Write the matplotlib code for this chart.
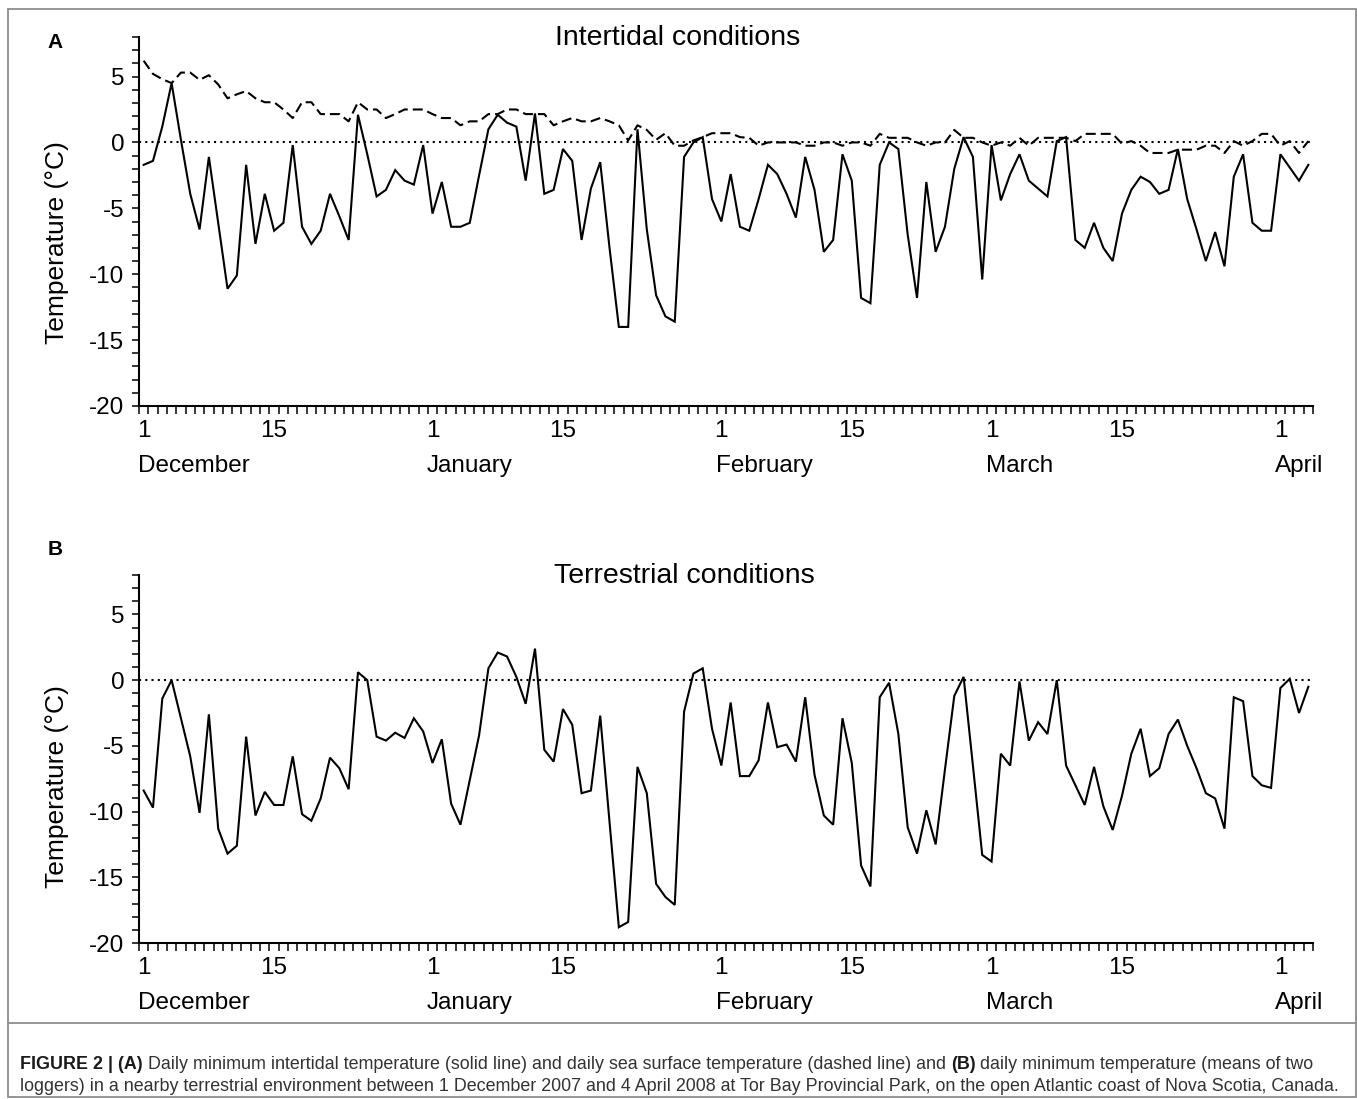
import numpy as np
import matplotlib
matplotlib.use("Agg")
import matplotlib.pyplot as plt
import matplotlib.dates as mdates
from matplotlib.ticker import MultipleLocator, FixedLocator
from matplotlib.patches import Rectangle
from matplotlib.lines import Line2D

# ---------------- data (daily values, 1 Dec 2007 - 4 Apr 2008) ----------------
start_date, end_date = "2007-12-01", "2008-04-05"

intertidal_min = [
    -1.7, -1.4, 1.2, 4.5, 0.2, -3.9, -6.6, -1.1, -6.1, -11.1,
    -10.1, -1.7, -7.7, -3.9, -6.7, -6.1, -0.2, -6.4, -7.7, -6.7,
    -3.9, -5.6, -7.4, 2.1, -0.9, -4.1, -3.6, -2.1, -2.9, -3.2,
    -0.2, -5.4, -3.0, -6.4, -6.4, -6.1, -2.5, 1.0, 2.1, 1.5,
    1.2, -2.9, 2.2, -3.9, -3.6, -0.5, -1.4, -7.4, -3.5, -1.5,
    -8.0, -14.0, -14.0, 1.0, -6.6, -11.6, -13.2, -13.6, -1.1, 0.0,
    0.4, -4.3, -6.0, -2.4, -6.4, -6.7, -4.3, -1.7, -2.4, -3.9,
    -5.7, -1.1, -3.6, -8.3, -7.4, -0.9, -2.9, -11.8, -12.2, -1.7,
    0.0, -0.5, -7.0, -11.8, -3.0, -8.3, -6.4, -2.0, 0.4, -1.1,
    -10.4, -0.2, -4.4, -2.4, -0.9, -2.9, -3.5, -4.1, 0.1, 0.4,
    -7.4, -8.0, -6.1, -8.0, -9.0, -5.4, -3.6, -2.6, -3.0, -3.9,
    -3.6, -0.5, -4.3, -6.6, -9.0, -6.8, -9.4, -2.6, -0.9, -6.1,
    -6.7, -6.7, -0.9, -1.9, -2.9, -1.7,
]

sea_surface = [
    6.2, 5.2, 4.8, 4.5, 5.3, 5.3, 4.75, 5.1, 4.4, 3.35,
    3.65, 3.9, 3.35, 3.05, 3.05, 2.5, 1.85, 3.05, 3.05, 2.15,
    2.15, 2.15, 1.6, 3.05, 2.5, 2.5, 1.85, 2.15, 2.5, 2.5,
    2.5, 2.15, 1.85, 1.85, 1.3, 1.6, 1.6, 2.15, 2.15, 2.5,
    2.5, 2.15, 2.15, 2.15, 1.3, 1.6, 1.85, 1.6, 1.6, 1.85,
    1.6, 1.3, 0.15, 1.3, 0.95, 0.2, 0.7, -0.25, -0.25, 0.15,
    0.4, 0.7, 0.7, 0.7, 0.4, 0.35, -0.25, 0.0, 0.0, 0.0,
    0.0, -0.25, -0.25, 0.0, 0.0, -0.25, 0.0, 0.0, -0.25, 0.65,
    0.35, 0.35, 0.35, 0.0, -0.25, 0.0, 0.0, 0.95, 0.35, 0.35,
    0.0, -0.25, 0.0, -0.25, 0.35, -0.25, 0.35, 0.35, 0.35, 0.35,
    0.1, 0.65, 0.65, 0.65, 0.65, -0.1, 0.1, -0.25, -0.8, -0.8,
    -0.8, -0.55, -0.55, -0.55, -0.25, -0.25, -0.8, 0.1, -0.25, 0.1,
    0.65, 0.65, -0.25, 0.1, -0.8, 0.1,
]

terrestrial_min = [
    -8.4, -9.7, -1.4, 0.0, -2.9, -5.8, -10.1, -2.6, -11.3, -13.2,
    -12.6, -4.3, -10.3, -8.5, -9.5, -9.5, -5.8, -10.2, -10.7, -9.0,
    -5.9, -6.7, -8.3, 0.6, 0.0, -4.3, -4.6, -4.0, -4.4, -2.9,
    -3.9, -6.3, -4.5, -9.4, -11.0, -7.6, -4.2, 0.9, 2.1, 1.8,
    0.25, -1.8, 2.4, -5.3, -6.2, -2.2, -3.4, -8.6, -8.4, -2.7,
    -10.8, -18.8, -18.4, -6.6, -8.6, -15.5, -16.5, -17.1, -2.4, 0.5,
    0.9, -3.7, -6.5, -1.7, -7.3, -7.3, -6.1, -1.7, -5.1, -4.9,
    -6.2, -1.3, -7.2, -10.3, -11.0, -2.9, -6.3, -14.1, -15.7, -1.3,
    -0.2, -4.1, -11.2, -13.2, -9.9, -12.5, -6.8, -1.2, 0.25, -6.5,
    -13.3, -13.8, -5.6, -6.5, -0.1, -4.6, -3.2, -4.1, 0.0, -6.5,
    -8.0, -9.5, -6.6, -9.6, -11.4, -8.8, -5.6, -3.7, -7.3, -6.7,
    -4.1, -3.0, -5.0, -6.7, -8.6, -9.0, -11.3, -1.3, -1.6, -7.3,
    -8.0, -8.2, -0.6, 0.1, -2.5, -0.5,
]

tick_dates = ["2007-12-01", "2007-12-15", "2008-01-01", "2008-01-15", "2008-02-01",
              "2008-02-15", "2008-03-01", "2008-03-15", "2008-04-01"]
tick_labels = ["1", "15", "1", "15", "1", "15", "1", "15", "1"]
month_starts = ["2007-12-01", "2008-01-01", "2008-02-01", "2008-03-01", "2008-04-01"]
month_names = ["December", "January", "February", "March", "April"]
y_major = [-20, -15, -10, -5, 0, 5]

panel_titles = ["Intertidal conditions", "Terrestrial conditions"]
panel_letters = ["A", "B"]
y_label = "Temperature (\u00b0C)"

caption_line1 = [
    ("FIGURE 2 | (A)", True),
    ("Daily minimum intertidal temperature (solid line) and daily sea surface temperature (dashed line) and", False),
    ("(B)", True),
    ("daily minimum temperature (means of two", False),
]
caption_line2 = [
    ("loggers) in a nearby terrestrial environment between 1 December 2007 and 4 April 2008 at Tor Bay "
     "Provincial Park, on the open Atlantic coast of Nova Scotia, Canada.", False),
]

# ---------------- styling ----------------
plt.rcParams["font.family"] = ["Liberation Sans", "DejaVu Sans"]
plt.rcParams["axes.unicode_minus"] = False
W, H = 1357, 1099
fig = plt.figure(figsize=(W / 100, H / 100), dpi=100)
fig.patch.set_facecolor("white")


def fx(x):
    return x / W


def fy(y):
    return 1 - y / H


days = np.arange(start_date, end_date, dtype="datetime64[D]")
x_mid = mdates.date2num(days) + 0.5
x_lo = mdates.date2num(np.datetime64(start_date))
x_hi = mdates.date2num(np.datetime64(end_date))
tick_x = mdates.date2num(np.array(tick_dates, dtype="datetime64[D]")) + 0.5
month_x = mdates.date2num(np.array(month_starts, dtype="datetime64[D]"))

LW = 1.5
TICK_FS = 17.5


def make_panel(top_px, bottom_px):
    ax = fig.add_axes([fx(139), fy(bottom_px), fx(1313) - fx(139), fy(top_px) - fy(bottom_px)])
    ax.set_xlim(x_lo, x_hi)
    ax.set_ylim(-20, 8)
    for s in ("top", "right"):
        ax.spines[s].set_visible(False)
    for s in ("left", "bottom"):
        ax.spines[s].set_linewidth(1.5)
    ax.axhline(0, color="black", lw=1.5, linestyle=(0, (1, 2)), zorder=1)
    # y ticks
    ax.yaxis.set_major_locator(FixedLocator(y_major))
    ax.yaxis.set_minor_locator(MultipleLocator(1))
    ax.tick_params(axis="y", which="both", direction="out", length=5, width=1.1,
                   labelsize=TICK_FS, pad=5.5)
    # x ticks: daily marks (minor), labels centred on days (major, no mark)
    ax.xaxis.set_minor_locator(FixedLocator(np.arange(x_lo, x_hi + 0.5, 1.0)))
    ax.xaxis.set_major_locator(FixedLocator(tick_x))
    ax.set_xticklabels(tick_labels)
    ax.tick_params(axis="x", which="minor", direction="out", length=5.5, width=1.1)
    ax.tick_params(axis="x", which="major", length=0, labelsize=TICK_FS, pad=10)
    for mx, name in zip(month_x, month_names):
        ax.annotate(name, xy=(mx, 0), xycoords=("data", "axes fraction"),
                    xytext=(-1, -60), textcoords="offset pixels",
                    ha="left", va="center", fontsize=TICK_FS)
    return ax


axA = make_panel(37, 406)
axA.plot(x_mid, intertidal_min, color="black", lw=LW, solid_joinstyle="miter")
axA.plot(x_mid, sea_surface, color="black", lw=LW, dashes=(4.8, 2.4))

axB = make_panel(575, 943)
axB.plot(x_mid, terrestrial_min, color="black", lw=LW, solid_joinstyle="miter")

# titles, panel letters, y labels
fig.text(fx(678), fy(45), panel_titles[0], ha="center", va="baseline", fontsize=20.5)
fig.text(fx(684), fy(583), panel_titles[1], ha="center", va="baseline", fontsize=20.5)
fig.text(fx(55), fy(43), panel_letters[0], ha="center", va="center", fontsize=15, fontweight="bold")
fig.text(fx(55), fy(549), panel_letters[1], ha="center", va="center", fontsize=15, fontweight="bold")
fig.text(fx(57), fy(243), y_label, ha="center", va="center", rotation=90, fontsize=19)
fig.text(fx(57), fy(787), y_label, ha="center", va="center", rotation=90, fontsize=19)

# frame and caption box
frame_col = "#8c8c8c"
fig.add_artist(Rectangle((fx(8), fy(1097)), fx(1356) - fx(8), fy(9) - fy(1097),
                         transform=fig.transFigure, fill=False, edgecolor=frame_col, lw=1.3))
fig.add_artist(Line2D([fx(8), fx(1356)], [fy(1023), fy(1023)], transform=fig.transFigure,
                      color=frame_col, lw=1.3))

# caption with mixed bold runs
CAP_FONT = ["Liberation Sans Narrow", "Liberation Sans", "DejaVu Sans"]
renderer = fig.canvas.get_renderer()


def text_width(s, size, bold):
    t = fig.text(0, 0, s, fontsize=size, fontweight="bold" if bold else "normal", family=CAP_FONT)
    w = t.get_window_extent(renderer).width
    t.remove()
    return w


def runs_width(runs, size):
    sp = text_width("a a", size, False) - text_width("aa", size, False)
    return sum(text_width(s, size, b) for s, b in runs) + sp * (len(runs) - 1)


base = 10.0
cap_size = base * 1320.0 / runs_width(caption_line2, base)


def draw_runs(runs, x_px, base_y_px, size):
    sp = text_width("a a", size, False) - text_width("aa", size, False)
    x = x_px
    for s, b in runs:
        t = fig.text(fx(x), fy(base_y_px), s, fontsize=size, family=CAP_FONT,
                     fontweight="bold" if b else "normal", ha="left", va="baseline",
                     color="#1a1a1a" if b else "#333333")
        x += t.get_window_extent(renderer).width + sp


draw_runs(caption_line1, 20, 1069, cap_size)
draw_runs(caption_line2, 20, 1091, cap_size)

fig.savefig("out.png", dpi=100)
